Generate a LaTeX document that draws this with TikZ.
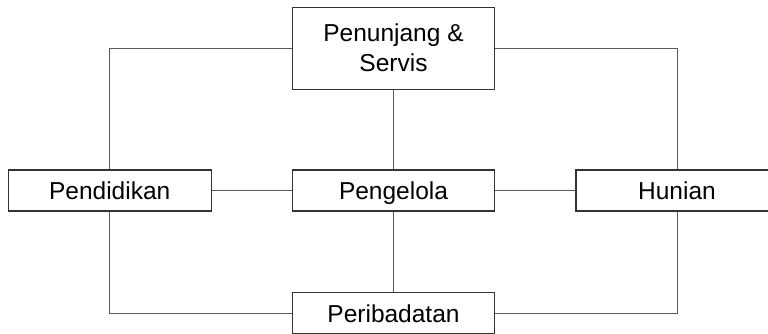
\documentclass[tikz,border=0pt]{standalone}
\usepackage{fontspec}
\setmainfont{Liberation Sans}
\begin{document}
\begin{tikzpicture}[x=1pt,y=1pt,
  blok/.style={draw=black!80,line width=1.1pt,fill=white,minimum width=201.6pt,inner sep=0pt,font=\fontsize{24.5}{30}\selectfont,align=center},
  satu/.style={blok,minimum height=41pt,text height=17.9pt,text depth=0pt},
  garis/.style={draw=black!65,line width=1pt}]
\useasboundingbox (0,0) rectangle (768,333);
\clip (0,0) rectangle (768,333);
\node[blok,minimum height=81.7pt] (top) at (393.5,284.8) {Penunjang \&\\Servis};
\node[satu] (peng) at (393.5,142.5) {Pengelola};
\node[satu,minimum width=202.7pt] (pend) at (109.7,142.5) {Pendidikan};
\node[satu,minimum width=202pt] (hun) at (677,142.5) {Hunian};
\node[satu] (perib) at (393.5,19.8) {Peribadatan};
\draw[garis] (top.west) -| (pend.north);
\draw[garis] (top.east) -| (hun.north);
\draw[garis] (top.south) -- (peng.north);
\draw[garis] (pend.east) -- (peng.west);
\draw[garis] (peng.east) -- (hun.west);
\draw[garis] (peng.south) -- (perib.north);
\draw[garis] (pend.south) |- (perib.west);
\draw[garis] (hun.south) |- (perib.east);
\end{tikzpicture}
\end{document}
